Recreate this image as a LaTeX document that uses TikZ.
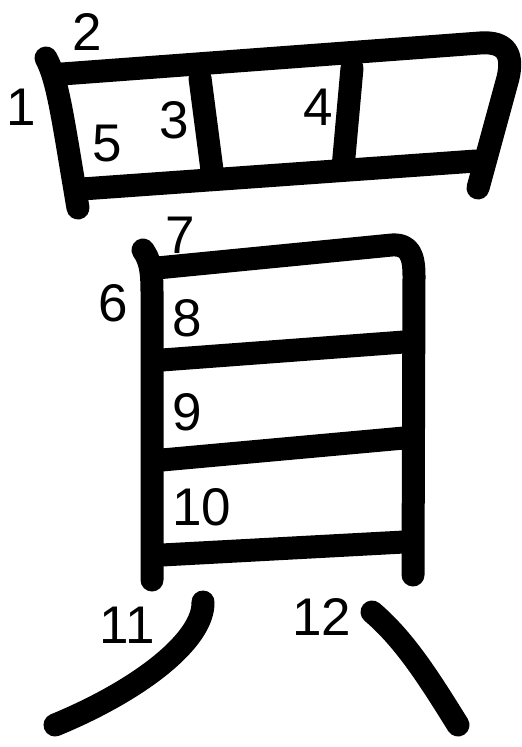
\documentclass[tikz,border=0pt]{standalone}
\usepackage{fontspec}
\setmainfont{Liberation Sans}
\usepackage{tikz}
\usetikzlibrary{positioning}

\begin{document}
\begin{tikzpicture}[
  x=0.5pt, y=-0.5pt,
  brush/.style={draw=black, line width=11.5pt, line cap=round, line join=round},
  num/.style={font=\fontsize{26.5}{28}\selectfont, inner sep=0pt},
]
\useasboundingbox (0,0) rectangle (522,747);

% 1-5: upper box
\draw[brush] (46,58) .. controls (58,80) and (63,120) .. (78,208);
\draw[brush] (62,74) -- (480,43) .. controls (508,41) and (513,56) .. (508,78) -- (478,188);
\draw[brush] (200,78) -- (212,170);
\draw[brush] (352,68) -- (343,168);
\draw[brush] (82,189) -- (476,161);

% 6-10: lower box
\draw[brush] (143,250) .. controls (150,260) and (152,270) .. (152,292) -- (152,580);
\draw[brush] (157,268) -- (392,245) .. controls (410,244) and (414,256) .. (414,276) -- (413,575);
\draw[brush] (162,360) -- (404,342);
\draw[brush] (162,460) -- (404,438);
\draw[brush] (162,555) -- (404,542);

% 11-12: legs
\draw[brush] (203,602) .. controls (204,640) and (140,690) .. (55,725);
\draw[brush] (372,612) .. controls (405,640) and (430,680) .. (458,725);

% stroke numbers
\node[num] (n1) at (21,107) {1};
\node[num] (n2) at (87,32) {2};
\node[num] (n3) at (174,120) {3};
\node[num] (n4) at (318,107) {4};
\node[num] (n5) at (107,144) {5};
\node[num] (n6) at (113,303) {6};
\node[num] (n7) at (180,235) {7};
\node[num] (n8) at (187,318) {8};
\node[num] (n9) at (187,412) {9};
\node[num] (n10) at (202,507) {10};
\node[num] (n11) at (127,625) {11};
\node[num] (n12) at (322,617) {12};

\end{tikzpicture}
\end{document}
